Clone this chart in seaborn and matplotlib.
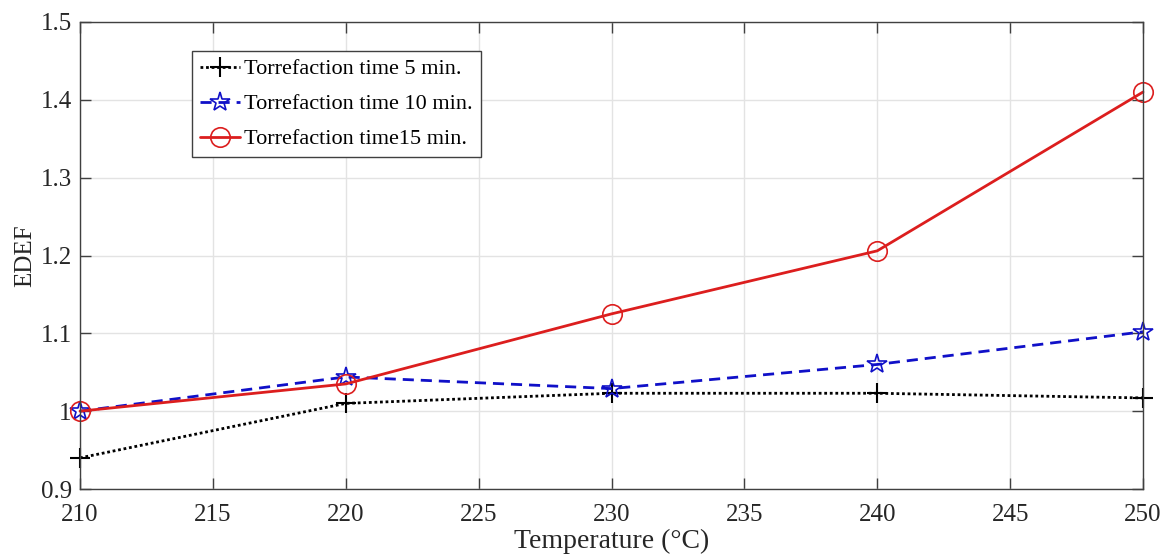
import matplotlib
matplotlib.use("Agg")
import matplotlib.pyplot as plt
import seaborn as sns
import pandas as pd

temperature = [210, 220, 230, 240, 250]
edef_5min = [0.94, 1.01, 1.023, 1.023, 1.017]
edef_10min = [1.0, 1.044, 1.029, 1.06, 1.102]
edef_15min = [1.0, 1.035, 1.125, 1.206, 1.41]
labels = ["Torrefaction time 5 min.", "Torrefaction time 10 min.", "Torrefaction time15 min."]
x_ticks = [210, 215, 220, 225, 230, 235, 240, 245, 250]
y_ticks = [0.9, 1.0, 1.1, 1.2, 1.3, 1.4, 1.5]
y_tick_labels = ["0.9", "1", "1.1", "1.2", "1.3", "1.4", "1.5"]

sns.set_theme(style="whitegrid")
plt.rcParams['font.family'] = ['Liberation Serif', 'DejaVu Serif']

fig = plt.figure(figsize=(11.64, 5.56), dpi=100)
ax = fig.add_axes([80/1164, 1-489/556, (1143-80)/1164, (489-22)/556])

df5 = pd.DataFrame({"T": temperature, "E": edef_5min})
df10 = pd.DataFrame({"T": temperature, "E": edef_10min})
df15 = pd.DataFrame({"T": temperature, "E": edef_15min})

sns.lineplot(data=df5, x="T", y="E", ax=ax, color="black", linestyle=(0, (1, 1.0)),
             linewidth=2.0, marker="+", markersize=14, markeredgewidth=1.5,
             markeredgecolor="black", label=labels[0], clip_on=False)
sns.lineplot(data=df10, x="T", y="E", ax=ax, color="#1010c8", linestyle=(0, (4, 2.5)),
             linewidth=2.0, marker="*", markersize=15, markerfacecolor="none",
             markeredgecolor="#1010c8", markeredgewidth=1.2, label=labels[1], clip_on=False)
sns.lineplot(data=df15, x="T", y="E", ax=ax, color="#dc1e1e", linestyle="-",
             linewidth=2.0, marker="o", markersize=14, markerfacecolor="none",
             markeredgecolor="#dc1e1e", markeredgewidth=1.2, label=labels[2], clip_on=False)

ax.set_xlim(210, 250)
ax.set_ylim(0.9, 1.5)
ax.set_xticks(x_ticks)
ax.set_xticklabels([str(t) for t in x_ticks])
ax.set_yticks(y_ticks)
ax.set_yticklabels(y_tick_labels)
ax.grid(True, color="#e3e3e3", linewidth=1.0)
ax.set_facecolor("white")
for s in ax.spines.values():
    s.set_color("#404040")
    s.set_linewidth(1.0)
ax.tick_params(axis="both", which="both", direction="in", length=8, width=1.0,
               color="#404040", labelsize=18, labelcolor="#262626",
               top=True, right=True, bottom=True, left=True)
ax.tick_params(axis="x", pad=11)
ax.tick_params(axis="y", pad=6)
ax.set_xlabel("Temperature (°C)", fontsize=20, color="#262626")
ax.set_ylabel("EDEF", fontsize=18, color="#262626")
ax.xaxis.set_label_coords(0.5, -(541-489)/467, transform=ax.transAxes)
ax.xaxis.label.set_va("center")
ax.yaxis.set_label_coords(-(80-25)/1063, 0.5, transform=ax.transAxes)
ax.yaxis.label.set_va("center")

leg = ax.legend(loc="upper left", bbox_to_anchor=((192-80)/1063, (489-51)/467),
                fontsize=16, frameon=True, fancybox=False, edgecolor="#404040",
                framealpha=1, handlelength=1.8, handletextpad=0.2,
                borderpad=0.35, labelspacing=0.65, borderaxespad=0)
leg.get_frame().set_linewidth(1.0)
for t in leg.get_texts():
    t.set_color("black")

fig.savefig("out.png", dpi=100, facecolor="white")
